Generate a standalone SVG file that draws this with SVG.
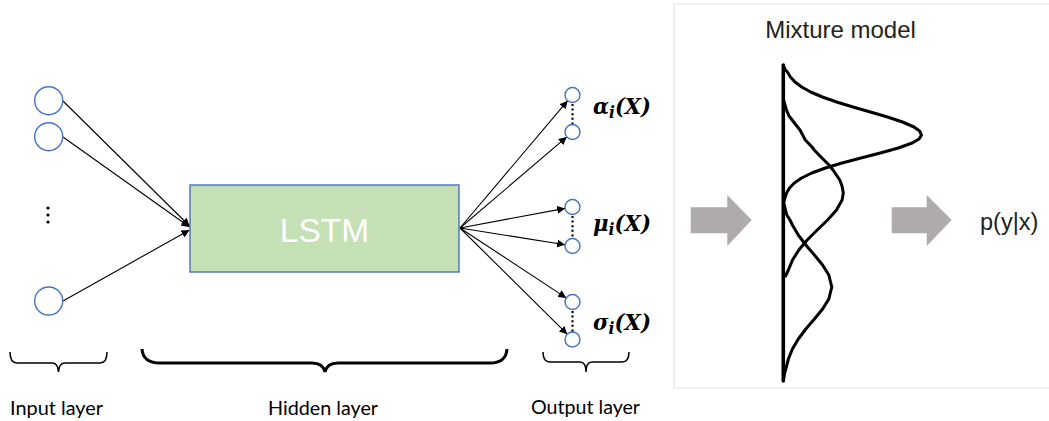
<svg xmlns="http://www.w3.org/2000/svg" width="1049" height="421" viewBox="0 0 1049 421">
<style>
.node{fill:#fff;stroke:#4472c4;stroke-width:1.4}
.conn{stroke:#000;stroke-width:1.1;fill:none;marker-end:url(#ah)}
.dots{stroke:#000;stroke-width:2.2;stroke-dasharray:2 2.6;fill:none}
.brace{fill:none;stroke:#000;stroke-width:1.5}
.brace.thick{stroke-width:3}
.lbl{font-family:Lato,"Open Sans",sans-serif;font-size:18.5px;fill:#000}
.math{font-family:"DejaVu Serif","Liberation Serif",serif;font-weight:bold;font-style:italic;font-size:23px;fill:#000}
.curve{fill:none;stroke:#000;stroke-width:3;stroke-linejoin:round;stroke-linecap:round}
.garrow{fill:#afabab}
.sans{font-family:"Liberation Sans",Arial,sans-serif;fill:#222}
</style>
<defs>
<marker id="ah" viewBox="0 0 10 10" refX="10" refY="5" markerWidth="8" markerHeight="8" markerUnits="userSpaceOnUse" orient="auto">
<path d="M0,0 L10,5 L0,10 z" fill="#000"/>
</marker>
</defs>
<rect width="1049" height="421" fill="#fff"/>

<g id="connectors">
<line class="conn" x1="63" y1="101" x2="189.5" y2="226"/>
<line class="conn" x1="63" y1="137" x2="189.5" y2="227"/>
<line class="conn" x1="63" y1="301" x2="189.5" y2="230"/>
<line class="conn" x1="460" y1="228" x2="567.7" y2="100.7"/>
<line class="conn" x1="460" y1="228" x2="566.8" y2="136.9"/>
<line class="conn" x1="460" y1="228" x2="565.1" y2="208.4"/>
<line class="conn" x1="460" y1="228" x2="565.1" y2="244.8"/>
<line class="conn" x1="460" y1="228" x2="566.2" y2="297.9"/>
<line class="conn" x1="460" y1="228" x2="567.2" y2="334.2"/>
</g>

<g id="input-layer">
<circle id="in1" class="node" cx="48.7" cy="100.7" r="14"/>
<circle id="in2" class="node" cx="48.7" cy="136.7" r="14"/>
<circle id="in3" class="node" cx="48.7" cy="301" r="14"/>
<g id="in-ellipsis" fill="#000">
<circle cx="48" cy="208" r="1.6"/>
<circle cx="48" cy="215" r="1.6"/>
<circle cx="48" cy="222" r="1.6"/>
</g>
</g>

<g id="lstm">
<rect x="190" y="185" width="269" height="87" fill="#c5e0b4" stroke="#4472c4" stroke-width="1.4"/>
<text x="324.5" y="241.5" text-anchor="middle" font-family="'Liberation Sans',Arial,sans-serif" font-size="33.5" fill="#fff">LSTM</text>
</g>

<g id="output-layer">
<circle id="out1" class="node" cx="572.5" cy="95" r="7.5"/>
<circle id="out2" class="node" cx="572.5" cy="132" r="7.5"/>
<circle id="out3" class="node" cx="572.5" cy="207" r="7.5"/>
<circle id="out4" class="node" cx="572.5" cy="246" r="7.5"/>
<circle id="out5" class="node" cx="572.5" cy="302" r="7.5"/>
<circle id="out6" class="node" cx="572.5" cy="339.5" r="7.5"/>
<line class="dots" x1="572.5" y1="104" x2="572.5" y2="124"/>
<line class="dots" x1="572.5" y1="216" x2="572.5" y2="238"/>
<line class="dots" x1="572.5" y1="311" x2="572.5" y2="332"/>
<text class="math" x="593" y="114" textLength="58" lengthAdjust="spacingAndGlyphs">α<tspan font-size="17" dy="4">i</tspan><tspan dy="-4">(X)</tspan></text>
<text class="math" x="593" y="231" textLength="58" lengthAdjust="spacingAndGlyphs">μ<tspan font-size="17" dy="4">i</tspan><tspan dy="-4">(X)</tspan></text>
<text class="math" x="593" y="330" textLength="58" lengthAdjust="spacingAndGlyphs">σ<tspan font-size="17" dy="4">i</tspan><tspan dy="-4">(X)</tspan></text>
</g>

<g id="braces">
<path class="brace" d="M10,352 Q10,363 17,363 L52,363 Q58,363 58.5,372 Q59,363 65,363 L100,363 Q107,363 107,352"/>
<path class="brace thick" d="M142,349 Q143,363 160,363 L312,363 Q323,363 325,372 Q327,363 338,363 L490,363 Q506,363 507,349"/>
<path class="brace" d="M543,352 Q543,362 550,362 L580,362 Q586,362 586,372 Q586,362 592,362 L622,362 Q629,362 629,352"/>
</g>

<g id="layer-labels">
<text class="lbl" x="10" y="415" textLength="93" lengthAdjust="spacingAndGlyphs">Input layer</text>
<text class="lbl" x="268" y="415" textLength="110" lengthAdjust="spacingAndGlyphs">Hidden layer</text>
<text class="lbl" x="531" y="414" textLength="109" lengthAdjust="spacingAndGlyphs">Output layer</text>
</g>

<g id="mixture-panel">
<path d="M1049,4 L674,4 L674,388 L1049,388" fill="none" stroke="#e3e3e3" stroke-width="1.2"/>
<text class="sans" x="840.5" y="37.5" text-anchor="middle" font-size="24">Mixture model</text>
<path class="garrow" d="M690.7,207.3 L727.3,207.3 L727.3,195 L751.7,220 L727.3,246 L727.3,233.3 L690.7,233.3 z"/>
<path class="garrow" d="M891.7,207.3 L926.7,207.3 L926.7,195 L951.7,220 L926.7,246 L926.7,233.3 L891.7,233.3 z"/>
<text class="sans" x="980" y="230" font-size="23.5">p(y|x)</text>
<line x1="783.3" y1="65" x2="783.3" y2="381" stroke="#000" stroke-width="3.6" stroke-linecap="round"/>
<polyline class="curve" points="783.5,66 785.5,70 787.4,72 790.4,77 795,82 801.7,87 810.7,92 822.4,97 836.7,102 853,107 870.4,112 887.5,117 902.5,122 914,127 919.6,131 921.5,135 919.1,139 912.2,143 898.3,148 880.4,153 860.9,158 842,163 825.4,168 811.8,173 801.6,178 794.3,183 789.5,188 786.6,193 784.9,198 783.8,202"/>
<polyline class="curve" points="783.5,100 785,105 786.5,110 789,116 792.2,120 796,125 800,130 805.3,140 812,147 814.3,150 819,155 824,160 829,165 833,170 839.8,180 842,186 843.3,193 842.1,200 836.5,210 827.6,220 817.2,230 807.2,240 798.8,250 792.5,260 788.4,270 785.5,276"/>
<polyline class="curve" points="783.5,202 785,208 786.8,215 790,220 792.4,225 798.3,235 805.8,245 814.4,255 822.6,265 828.8,275 831.8,287 828.8,299 822.6,309 814.4,319 805.8,329 798.3,339 792.4,349 788.4,359 786.3,367 784.5,374 783.5,380"/>
</g>
</svg>
